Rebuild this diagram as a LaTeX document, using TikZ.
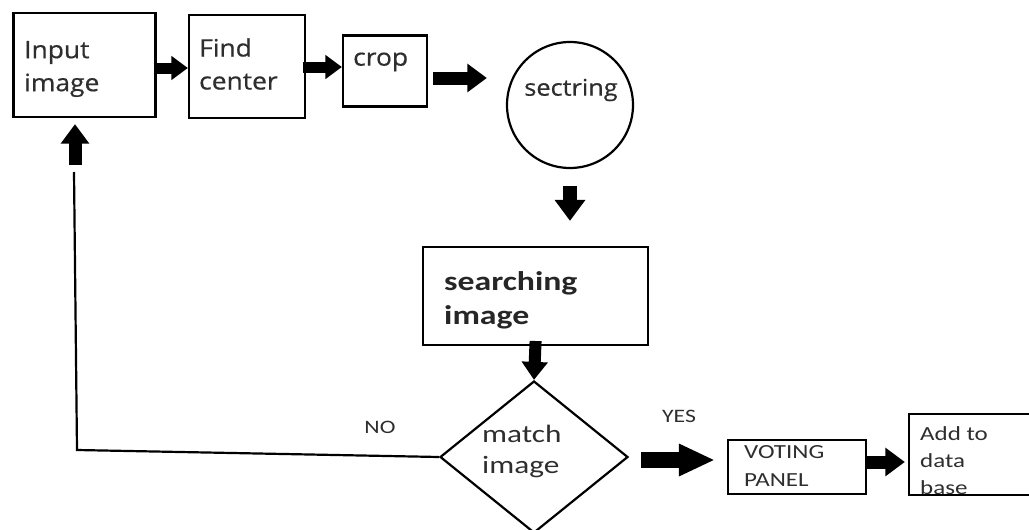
\documentclass[tikz,border=0pt]{standalone}
\usepackage{fontspec}
\setmainfont[FakeStretch=1.25]{Carlito}
\newfontfamily\dinfont[FakeStretch=1.1,FakeBold=0.6]{Open Sans}
\usetikzlibrary{arrows.meta,shapes.geometric}
\definecolor{txtgray}{HTML}{2E2E2E}
\tikzset{
  box/.style={draw, line width=2.2pt, inner sep=0pt},
  lbl/.style={inner sep=0pt, align=left, text=txtgray},
  fat/.style={line width=#1, -{Triangle[width=2.1*#1, length=1.5*#1]}},
  fat/.default=12pt,
  thin/.style={line width=2.2pt}
}
\begin{document}
\begin{tikzpicture}[x=1pt,y=-1pt]
\useasboundingbox (0,0) rectangle (1029,530);
% boxes
\node[box, minimum width=142pt, minimum height=104pt] (in) at (84.5,65) {};
\node[box, minimum width=116pt, minimum height=103pt] (fc) at (247,66.5) {};
\node[box, minimum width=84pt, minimum height=71pt] (cr) at (385,71) {};
\node[circle, draw, line width=2.2pt, minimum size=126pt, inner sep=0pt] (sec) at (570,105) {};
\node[box, minimum width=225pt, minimum height=98pt] (srch) at (535.5,296) {};
\node[diamond, draw, line width=2.2pt, minimum width=188pt, minimum height=152pt, inner sep=0pt] (m) at (534,457) {};
\node[box, minimum width=138pt, minimum height=54pt] (vp) at (797,467) {};
\node[box, minimum width=130pt, minimum height=81pt] (db) at (974,454.5) {};
% labels
\node[lbl, anchor=west, font=\dinfont\fontsize{24}{33}\selectfont] (tin) at (24,69) {Input\\image};
\node[lbl, anchor=west, font=\dinfont\fontsize{24}{33}\selectfont] (tfc) at (199,64) {Find\\center};
\node[lbl, anchor=west, font=\dinfont\fontsize{24}{25}\selectfont] (tcr) at (353,62) {crop};
\node[lbl, font=\dinfont\fontsize{23}{24}\selectfont] (tsec) at (571,90) {sectring};
\node[lbl, anchor=west, text=black!85, font=\bfseries\fontsize{27}{34}\selectfont] (tsr) at (444,300) {searching\\image};
\node[lbl, anchor=west, font=\fontsize{25}{31}\selectfont] (tm) at (482,451) {match\\image};
\node[lbl, anchor=west, font=\fontsize{20}{28}\selectfont] (tvp) at (744,466) {VOTING\\PANEL};
\node[lbl, anchor=west, font=\fontsize{20}{27}\selectfont] (tdb) at (920,461) {Add to\\data\\base};
\node[lbl, font=\fontsize{19}{20}\selectfont] (yes) at (679,416) {YES};
\node[lbl, font=\fontsize{19}{20}\selectfont] (no) at (380,427) {NO};
% arrows
\draw[fat=11pt, shorten <=-3pt] (in.east |- 0,68) -- (fc.west |- 0,68);
\draw[fat=11pt, shorten <=-3pt] (fc.east |- 0,67) -- (cr.west |- 0,67);
\draw[fat=13pt, shorten <=5pt, shorten >=19pt] (cr.east |- 0,78) -- (sec.west |- 0,78);
\draw[fat=14pt, shorten <=17pt, shorten >=25pt] (sec.south) -- (sec.south |- srch.north);
\draw[fat=12pt, shorten <=-2pt] (srch.south |- 0,343) -- (m.north);
\draw[line width=16pt,-{Triangle[width=30pt,length=36pt]}, shorten <=12pt, shorten >=12pt] (m.east |- 0,460) -- (vp.west |- 0,460);
\draw[fat=13pt, shorten >=3pt] (vp.east |- 0,462) -- (db.west |- 0,462);
% NO loop
\coordinate (c1) at (77,450);
\coordinate (c2) at (74,172);
\coordinate (c3) at (75,165);
\draw[thin] (m.west) -- (c1) -- (c2);
\draw[fat=13pt, shorten >=6pt] (c3) -- (c3 |- in.south);
\end{tikzpicture}
\end{document}
